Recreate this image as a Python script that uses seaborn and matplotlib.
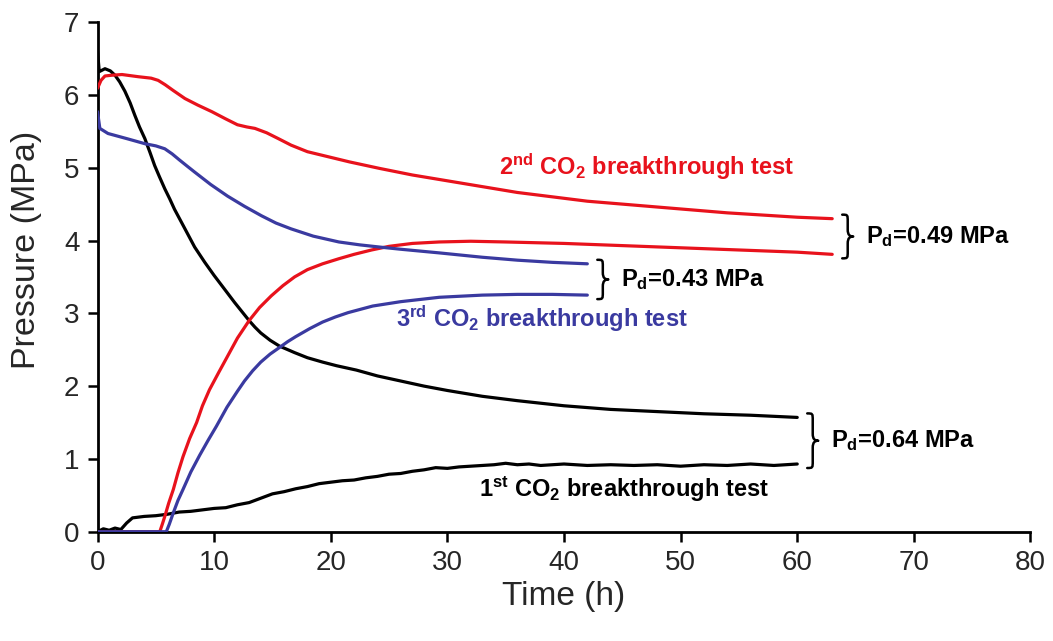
import matplotlib
matplotlib.use("Agg")
import matplotlib.pyplot as plt
from matplotlib.path import Path
from matplotlib.patches import PathPatch
from matplotlib.transforms import IdentityTransform
import seaborn as sns
import pandas as pd

# ---- measured pressures (MPa) versus time (h) ----
# 1st CO2 breakthrough test
t1_up = [0, 0.15, 0.64, 1.1, 1.5, 1.9, 2.35, 2.8, 3.2, 3.6, 4.06, 4.5, 4.9,
         5.3, 5.77, 6.2, 6.6, 7.5, 8.33, 9.2, 10.0, 10.9, 11.75, 12.4, 13.0,
         13.5, 14.0, 14.8, 15.6, 16.9, 18.0, 19.3, 20.5, 22.2, 24, 26, 28, 30,
         33, 36, 40, 44, 48, 52, 56, 60]
p1_up = [6.6, 6.32, 6.36, 6.33, 6.27, 6.18, 6.05, 5.89, 5.72, 5.56, 5.4, 5.21,
         5.03, 4.88, 4.71, 4.57, 4.43, 4.16, 3.91, 3.7, 3.52, 3.33, 3.15, 3.02,
         2.9, 2.81, 2.73, 2.63, 2.55, 2.46, 2.39, 2.33, 2.28, 2.22, 2.14, 2.07,
         2.0, 1.94, 1.86, 1.8, 1.73, 1.68, 1.65, 1.62, 1.6, 1.57]
t1_down = [0, 0.5, 1, 1.5, 2, 2.5, 3, 4, 5, 6, 7, 8, 9, 10, 11, 12, 13, 14, 15,
           16, 17, 18, 19, 20, 21, 22, 23, 24, 25, 26, 27, 28, 29, 30, 31, 32,
           33, 34, 35, 36, 37, 38, 39, 40, 42, 44, 46, 48, 50, 52, 54, 56, 58, 60]
p1_down = [0.0, 0.04, 0.02, 0.05, 0.03, 0.12, 0.19, 0.21, 0.22, 0.24, 0.27,
           0.28, 0.3, 0.32, 0.33, 0.37, 0.4, 0.46, 0.52, 0.55, 0.59, 0.62, 0.66,
           0.68, 0.7, 0.71, 0.74, 0.76, 0.79, 0.8, 0.83, 0.85, 0.88, 0.87, 0.89,
           0.9, 0.91, 0.92, 0.94, 0.92, 0.93, 0.91, 0.92, 0.93, 0.91, 0.92,
           0.91, 0.92, 0.9, 0.92, 0.91, 0.93, 0.91, 0.93]

# 2nd CO2 breakthrough test
t2_up = [0, 0.3, 0.64, 1.2, 2.1, 3.5, 4.6, 5.2, 5.8, 6.5, 7.5, 8.6, 9.8, 11.0,
         12.0, 12.8, 13.5, 14.5, 15.5, 16.6, 18, 19.8, 21.6, 24.2, 27, 30, 33,
         36, 39, 42, 45, 48, 51, 54, 57, 60, 63]
p2_up = [6.09, 6.2, 6.26, 6.27, 6.28, 6.25, 6.23, 6.2, 6.14, 6.06, 5.95, 5.86,
         5.77, 5.67, 5.59, 5.56, 5.54, 5.48, 5.4, 5.31, 5.22, 5.15, 5.08, 4.99,
         4.9, 4.82, 4.74, 4.66, 4.6, 4.54, 4.5, 4.46, 4.42, 4.38, 4.35, 4.32,
         4.3]
t2_down = [0, 5.34, 5.55, 5.77, 6.1, 6.5, 6.9, 7.33, 7.9, 8.5, 9.0, 9.6, 10.4,
           11.15, 12.0, 13.0, 13.9, 14.9, 15.9, 16.9, 18.0, 19.3, 20.7, 22, 23.5,
           25, 27, 29.3, 32, 35, 40, 45, 50, 55, 60, 63]
p2_down = [0, 0, 0.1, 0.21, 0.39, 0.58, 0.81, 1.03, 1.28, 1.5, 1.73, 1.95,
           2.19, 2.41, 2.66, 2.9, 3.08, 3.24, 3.38, 3.5, 3.6, 3.68, 3.75, 3.81,
           3.87, 3.92, 3.96, 3.98, 3.99, 3.98, 3.96, 3.93, 3.9, 3.87, 3.84, 3.81]

# 3rd CO2 breakthrough test
t3_up = [0, 0.2, 0.9, 2.5, 4.06, 5.0, 5.77, 6.4, 7.0, 7.7, 8.33, 9.7, 11.15,
         12.6, 14.06, 15.3, 16.6, 18.5, 20.7, 22.5, 24.2, 26, 29.3, 33, 36, 39,
         42]
p3_up = [5.77, 5.54, 5.47, 5.4, 5.33, 5.3, 5.26, 5.19, 5.11, 5.02, 4.94, 4.77,
         4.61, 4.47, 4.34, 4.24, 4.16, 4.06, 3.98, 3.94, 3.91, 3.88, 3.83, 3.77,
         3.73, 3.7, 3.68]
t3_down = [0, 5.9, 6.15, 6.5, 6.9, 7.33, 8.0, 8.76, 9.5, 10.2, 11.1, 12.0,
           12.6, 13.3, 14.0, 14.8, 15.6, 16.3, 17.0, 18.2, 19.3, 20.4, 21.5,
           23.6, 26, 29.3, 33, 36, 39, 42]
p3_down = [0, 0, 0.1, 0.26, 0.43, 0.58, 0.82, 1.05, 1.26, 1.45, 1.71, 1.93,
           2.07, 2.21, 2.33, 2.44, 2.53, 2.61, 2.68, 2.79, 2.88, 2.95, 3.01,
           3.1, 3.16, 3.22, 3.25, 3.26, 3.26, 3.25]

# entry-pressure differences shown beside each pair of curves
pd_values = [0.64, 0.49, 0.43]

RED = "#e8121c"
BLUE = "#3a3aa0"
BLACK = "#000000"
TEXT = "#262626"

sns.set_theme(style="ticks")
plt.rcParams["font.family"] = ["Liberation Sans", "DejaVu Sans"]
plt.rcParams["mathtext.fontset"] = "custom"
plt.rcParams["mathtext.rm"] = "Liberation Sans"
plt.rcParams["mathtext.bf"] = "Liberation Sans:bold"
plt.rcParams["mathtext.it"] = "Liberation Sans:italic"

fig = plt.figure(figsize=(10.53, 6.41), dpi=100)
ax = fig.add_axes([0.0926, 0.1705, 0.886, 0.795])

series = [
    (t1_up, p1_up, BLACK), (t1_down, p1_down, BLACK),
    (t2_up, p2_up, RED), (t2_down, p2_down, RED),
    (t3_up, p3_up, BLUE), (t3_down, p3_down, BLUE),
]
for t, p, c in series:
    df = pd.DataFrame({"Time": t, "Pressure": p})
    sns.lineplot(data=df, x="Time", y="Pressure", color=c, lw=2.3,
                 sort=False, estimator=None, ax=ax, zorder=3)

ax.set_xlim(0, 80)
ax.set_ylim(0, 7)
ax.set_xticks(range(0, 81, 10))
ax.set_yticks(range(0, 8))
ax.tick_params(axis="both", labelsize=20, labelcolor=TEXT, color="black",
               length=7, width=1.8, direction="out", pad=6)
for s in ["left", "bottom"]:
    ax.spines[s].set_linewidth(2.0)
    ax.spines[s].set_color("black")
sns.despine(ax=ax)
ax.set_xlabel("Time (h)", fontsize=24, color=TEXT, labelpad=4)
ax.set_ylabel("Pressure (MPa)", fontsize=24.5, color=TEXT)
ax.yaxis.set_label_coords(-0.06, 0.553)

# test labels
lab_kw = dict(fontsize=17, fontweight="bold", ha="left", va="center")
ax.text(34.4, 5.02, r"2$^{\mathbf{nd}}$ CO$_{\mathbf{2}}$ breakthrough test",
        color=RED, **lab_kw)
ax.text(25.6, 2.92, r"3$^{\mathbf{rd}}$ CO$_{\mathbf{2}}$ breakthrough test",
        color=BLUE, **lab_kw)
ax.text(32.7, 0.58, r"1$^{\mathbf{st}}$ CO$_{\mathbf{2}}$ breakthrough test",
        color=BLACK, **lab_kw)


def curly_brace(ax, x_end, y_hi, y_lo, gap=10, width=11, overhang=4, r=7):
    """Draw a right-facing curly brace (display pixels) spanning y_lo..y_hi."""
    (xd, yt), = ax.transData.transform([(x_end, y_hi)])
    (_, yb), = ax.transData.transform([(x_end, y_lo)])
    yt += overhang
    yb -= overhang
    x0 = xd + gap
    xm = x0 + width * 0.5
    xt = x0 + width
    ym = 0.5 * (yt + yb)
    verts = [
        (x0, yt), (xm, yt), (xm, yt), (xm, yt - r),
        (xm, ym + r),
        (xm, ym + 0.2 * r), (xm + 0.2 * width, ym), (xt, ym),
        (xm + 0.2 * width, ym), (xm, ym - 0.2 * r), (xm, ym - r),
        (xm, yb + r),
        (xm, yb), (xm, yb), (x0, yb),
    ]
    codes = [Path.MOVETO, Path.CURVE4, Path.CURVE4, Path.CURVE4,
             Path.LINETO,
             Path.CURVE4, Path.CURVE4, Path.CURVE4,
             Path.CURVE4, Path.CURVE4, Path.CURVE4,
             Path.LINETO,
             Path.CURVE4, Path.CURVE4, Path.CURVE4]
    patch = PathPatch(Path(verts, codes), transform=IdentityTransform(),
                      fill=False, lw=1.8, edgecolor="black", clip_on=False,
                      capstyle="round", joinstyle="round")
    fig.add_artist(patch)
    return xt, ym


# braces spanning each upstream/downstream gap, with the Pd value
pairs = [
    (t1_up[-1], p1_up[-1], p1_down[-1], pd_values[0]),
    (t2_up[-1], p2_up[-1], p2_down[-1], pd_values[1]),
    (t3_up[-1], p3_up[-1], p3_down[-1], pd_values[2]),
]
for t_end, hi, lo, val in pairs:
    curly_brace(ax, t_end, hi, lo)
    ax.annotate(r"P$_{\mathbf{d}}$=%.2f MPa" % val,
                xy=(t_end, (hi + lo) / 2), xytext=(24, 0),
                textcoords="offset points", fontsize=17, fontweight="bold",
                ha="left", va="center", color="black")

fig.savefig("out.png", dpi=100)
